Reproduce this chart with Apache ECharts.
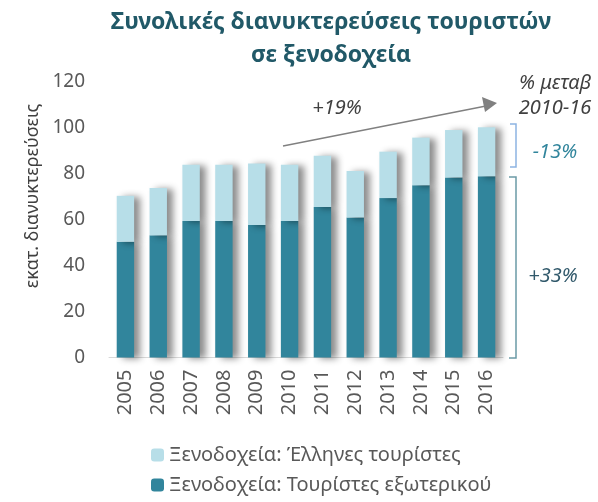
<!DOCTYPE html>
<html><head><meta charset="utf-8">
<script src="https://cdn.jsdelivr.net/npm/echarts@6/dist/echarts.min.js"></script>
<style>html,body{margin:0;padding:0;background:#fff}#c{width:598px;height:502px}</style>
</head><body><div id="c"></div>
<script>
const years = ['2005','2006','2007','2008','2009','2010','2011','2012','2013','2014','2015','2016'];
const foreign = [50.3, 53.1, 59.3, 59.3, 57.6, 59.3, 65.4, 60.9, 69.3, 74.9, 78.3, 78.8];
const greek = [20.0, 20.6, 24.5, 24.5, 26.8, 24.5, 22.3, 20.2, 20.2, 20.7, 20.6, 21.3];
const yTicks = [0, 20, 40, 60, 80, 100, 120];
const nameForeign = 'Ξενοδοχεία: Τουρίστες εξωτερικού';
const nameGreek = 'Ξενοδοχεία: Έλληνες τουρίστες';

const FONT = '"Noto Sans", "Open Sans", sans-serif';
const shadow = {shadowColor:'rgba(0,0,0,0.45)', shadowBlur:7, shadowOffsetX:6, shadowOffsetY:1};
const chart = echarts.init(document.getElementById('c'));
chart.setOption({
  animation:false,
  textStyle:{fontFamily:FONT},
  legend:{
    orient:'vertical', left:146, top:440, itemWidth:13, itemHeight:13, itemGap:10,
    data:[nameGreek, nameForeign],
    textStyle:{fontSize:20, color:'#595959', fontFamily:FONT}
  },
  grid:{left:109, right:95, top:81.5, bottom:144.5},
  xAxis:{
    type:'category', data:years,
    axisLine:{lineStyle:{color:'#D9D9D9', width:1}},
    axisTick:{show:false},
    axisLabel:{rotate:90, fontSize:20, color:'#595959', margin:12, fontFamily:FONT}
  },
  yAxis:{
    type:'value', min:yTicks[0], max:yTicks[yTicks.length-1], interval:20,
    splitLine:{show:false}, axisLine:{show:false}, axisTick:{show:false},
    axisLabel:{fontSize:19, color:'#595959', margin:24, fontFamily:FONT}
  },
  series:[
    {name:nameForeign, type:'bar', stack:'t', data:foreign, barWidth:'53%',
     itemStyle:Object.assign({color:'#31859C'}, shadow)},
    {name:nameGreek, type:'bar', stack:'t', data:greek, barWidth:'53%',
     itemStyle:Object.assign({color:'#B7DEE8'}, shadow)}
  ],
  graphic:[
    {type:'text', x:331, y:22, style:{text:'Συνολικές διανυκτερεύσεις τουριστών', font:'bold 23px '+FONT, fill:'#215968', align:'center', verticalAlign:'middle'}},
    {type:'text', x:331, y:55, style:{text:'σε ξενοδοχεία', font:'bold 23px '+FONT, fill:'#215968', align:'center', verticalAlign:'middle'}},
    {type:'text', x:33, y:196, rotation:Math.PI/2,
     style:{text:'εκατ. διανυκτερεύσεις', font:'18px '+FONT, fill:'#404040', align:'center', verticalAlign:'middle'}},
    {type:'line', shape:{x1:283, y1:146, x2:486, y2:106}, style:{stroke:'#808080', lineWidth:1.3}},
    {type:'polygon', shape:{points:[[497,103],[482,97],[485,112]]}, style:{fill:'#808080'}},
    {type:'text', x:337, y:108, style:{text:'+19%', font:'italic 20px '+FONT, fill:'#404040', align:'center', verticalAlign:'middle'}},
    {type:'text', x:555, y:83, style:{text:'% μεταβ', font:'italic 20px '+FONT, fill:'#404040', align:'center', verticalAlign:'middle'}},
    {type:'text', x:555, y:108, style:{text:'2010-16', font:'italic 20px '+FONT, fill:'#404040', align:'center', verticalAlign:'middle'}},
    {type:'polyline', shape:{points:[[510,124],[516,124],[516,167],[510,167]]}, style:{stroke:'#8DB4E2', lineWidth:1.5, fill:null}},
    {type:'text', x:555, y:152, style:{text:'-13%', font:'italic 20px '+FONT, fill:'#31859C', align:'center', verticalAlign:'middle'}},
    {type:'polyline', shape:{points:[[509,177],[516,177],[516,358],[509,358]]}, style:{stroke:'#6B9AA6', lineWidth:1.5, fill:null}},
    {type:'text', x:553, y:276, style:{text:'+33%', font:'italic 20px '+FONT, fill:'#31596B', align:'center', verticalAlign:'middle'}}
  ]
});
</script></body></html>
